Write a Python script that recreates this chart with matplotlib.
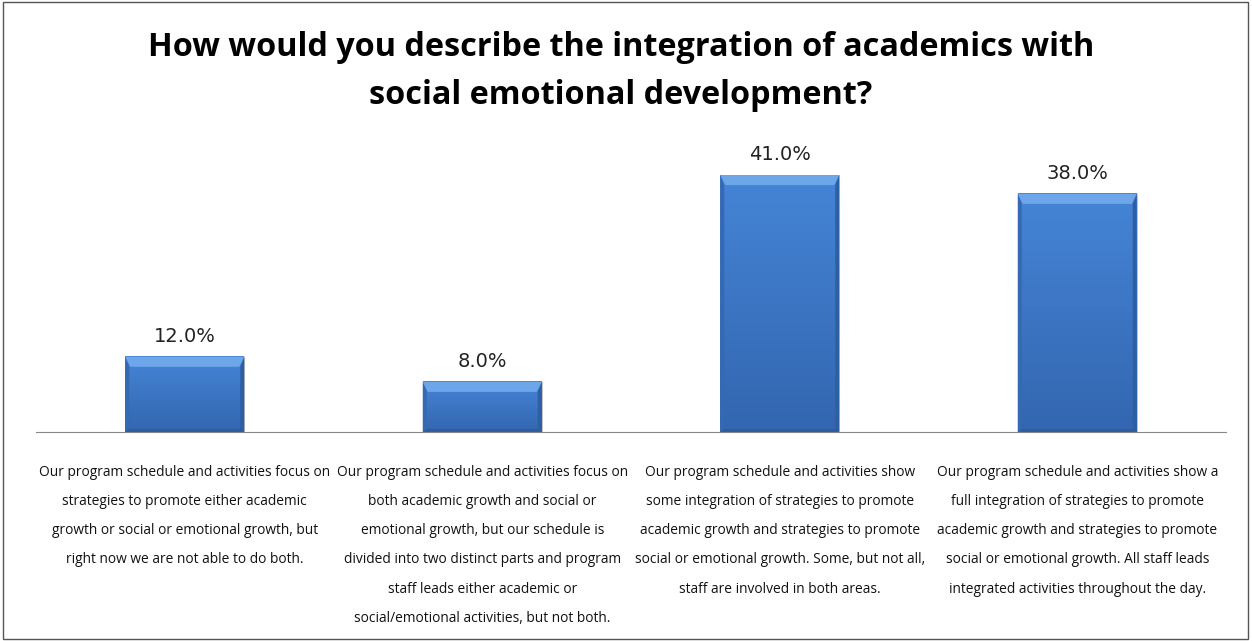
import matplotlib.pyplot as plt
import numpy as np
from matplotlib.patches import Rectangle, Polygon

# Survey responses
categories = [
    "Our program schedule and activities focus on\nstrategies to promote either academic\ngrowth or social or emotional growth, but\nright now we are not able to do both.",
    "Our program schedule and activities focus on\nboth academic growth and social or\nemotional growth, but our schedule is\ndivided into two distinct parts and program\nstaff leads either academic or\nsocial/emotional activities, but not both.",
    "Our program schedule and activities show\nsome integration of strategies to promote\nacademic growth and strategies to promote\nsocial or emotional growth. Some, but not all,\nstaff are involved in both areas.",
    "Our program schedule and activities show a\nfull integration of strategies to promote\nacademic growth and strategies to promote\nsocial or emotional growth. All staff leads\nintegrated activities throughout the day.",
]
percent = [12.0, 8.0, 41.0, 38.0]

fig = plt.figure(figsize=(12.52, 6.41), dpi=100)
ax = fig.add_axes([36 / 1252, 1 - 432 / 641, 1190 / 1252, 282 / 641])

x = np.arange(len(categories))
bars = ax.bar(x, percent, width=0.4, color="#3c78c8", edgecolor="none", zorder=2)

ax.set_xlim(-0.5, len(categories) - 0.5)
ax.set_ylim(0, 45)

# pixel -> data conversions for the bevel sizes
px_x = 4 / 1190
px_y = 45 / 282
top_c = np.array([0.27, 0.52, 0.84])
bot_c = np.array([0.20, 0.40, 0.69])
for b in bars:
    x0, w, h = b.get_x(), b.get_width(), b.get_height()
    t = np.linspace(0, 1, 64)[:, None]
    img = (top_c * (1 - t) + bot_c * t)[:, None, :].repeat(2, axis=1)
    ax.imshow(img, extent=[x0, x0 + w, 0, h], aspect="auto", zorder=3, interpolation="bilinear")
    bx, by = 5 * px_x, 10 * px_y
    sx = 4 * px_x
    # bevel: light top, darker sides and bottom
    ax.add_patch(Polygon([(x0, h), (x0 + w, h), (x0 + w - bx, h - by), (x0 + bx, h - by)],
                         closed=True, color="#6ea6ea", lw=0, zorder=4))
    ax.add_patch(Polygon([(x0, 0), (x0, h), (x0 + sx, h - by), (x0 + sx, 3 * px_y)],
                         closed=True, color="#3569b2", lw=0, zorder=4))
    ax.add_patch(Polygon([(x0 + w, 0), (x0 + w, h), (x0 + w - sx, h - by), (x0 + w - sx, 3 * px_y)],
                         closed=True, color="#2f5fa3", lw=0, zorder=4))
    ax.add_patch(Polygon([(x0, 0), (x0 + w, 0), (x0 + w - sx, 3 * px_y), (x0 + sx, 3 * px_y)],
                         closed=True, color="#2e5c9c", lw=0, zorder=4))
    ax.add_patch(Rectangle((x0, 0), w, h, fill=False, edgecolor="#b8b8b8", lw=0.6, zorder=1))
    ax.text(x0 + w / 2, h + 1.8, f"{h:.1f}%", ha="center", va="bottom", fontsize=14,
            family="DejaVu Sans", color="#222222")

ax.set_yticks([])
ax.set_xticks([])
for s in ["top", "left", "right"]:
    ax.spines[s].set_visible(False)
ax.spines["bottom"].set_color("#888888")
ax.spines["bottom"].set_zorder(5)

for i, lab in enumerate(categories):
    ax.text(i, -5.2, lab, ha="center", va="top", fontsize=9.9, family="Open Sans",
            linespacing=2.3, color="#111111")

fig.text(0.496, 1 - 71 / 641, "How would you describe the integration of academics with\nsocial emotional development?",
         ha="center", va="center", fontsize=23.3, fontweight="bold", family="Open Sans",
         linespacing=1.6)

# chart border
fig.add_artist(Rectangle((0.002, 0.003), 0.995, 0.994, transform=fig.transFigure,
                         fill=False, edgecolor="#555555", lw=1))

fig.savefig("out.png", dpi=100)
